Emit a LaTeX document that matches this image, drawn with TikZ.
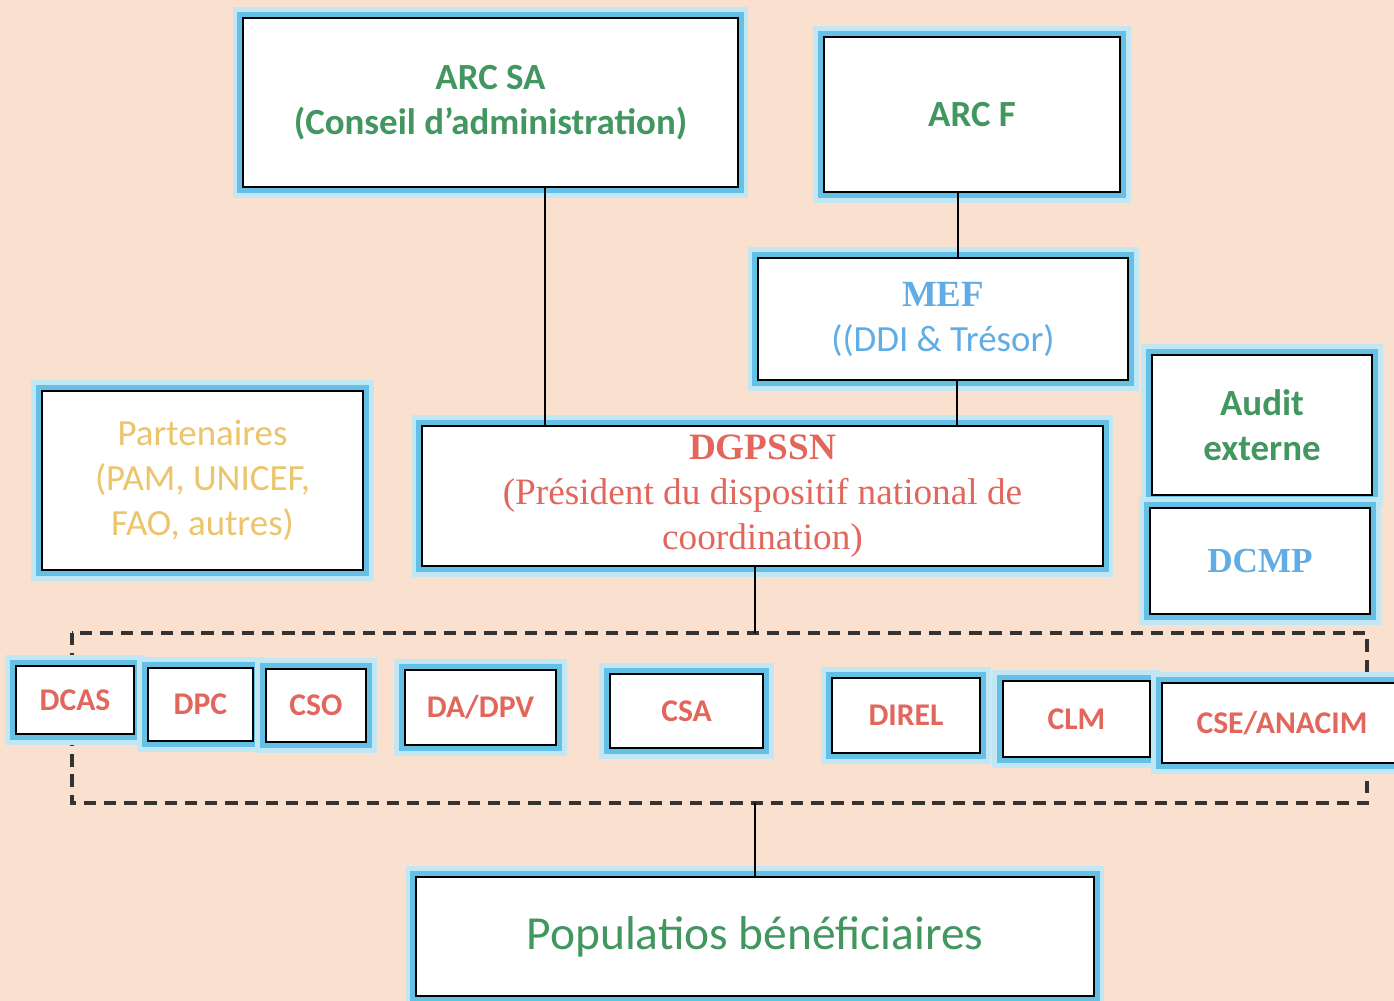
\documentclass[tikz,border=0pt]{standalone}
\usepackage{fontspec}
\setmainfont{Liberation Serif}
\setsansfont{Carlito}
\definecolor{bgpeach}{RGB}{250,224,207}
\definecolor{glowblue}{RGB}{100,192,228}
\definecolor{txtgreen}{RGB}{66,150,96}
\definecolor{txtred}{RGB}{226,102,92}
\definecolor{txtblue}{RGB}{96,172,228}
\definecolor{txtgold}{RGB}{236,196,106}

\begin{document}
\begin{tikzpicture}[x=0.02cm,y=-0.02cm]
      \tikzset{box/.style={draw=black,line width=1.4pt,fill=white,align=center,inner sep=0pt,
          preaction={draw=glowblue!40,line width=12pt},preaction={draw=glowblue,line width=7pt}}}
      \tikzset{sanslbl/.style={font=\sffamily\bfseries\fontsize{21}{25.6}\selectfont}}
      \tikzset{sansreg/.style={font=\sffamily\fontsize{21}{25.6}\selectfont}}
      \tikzset{seriflbl/.style={font=\rmfamily\fontsize{21.2}{25.6}\selectfont}}
      \tikzset{serifbold/.style={font=\rmfamily\bfseries\fontsize{20}{25.6}\selectfont}}
      \tikzset{unit/.style={box,font=\sffamily\bfseries\fontsize{18}{22}\selectfont,text=txtred}}
      \tikzset{link/.style={line width=1.2pt}}
      \tikzset{frame/.style={dash pattern=on 7pt off 4.5pt,line width=2pt,draw=black!80}}
      \fill[bgpeach] (0,0) rectangle (1394,1001);
      \useasboundingbox (0,0) rectangle (1394,1001);
      % top level
      \node[box,sanslbl,text=txtgreen,minimum width=9.9cm,minimum height=3.38cm] (arcsa) at (490.5,102.5)
        {ARC SA\\(Conseil d’administration)};
      \node[box,sanslbl,text=txtgreen,minimum width=5.92cm,minimum height=3.1cm] (arcf) at (972,114.5) {ARC F};
      \node[box,sansreg,text=txtblue,minimum width=7.4cm,minimum height=2.44cm] (mef) at (943,319)
        {{\rmfamily\bfseries MEF}\\((DDI \& Trésor)};
      \node[box,sansreg,text=txtgold,minimum width=6.42cm,minimum height=3.58cm] (part) at (202.5,480.5)
        {Partenaires\\(PAM, UNICEF,\\FAO, autres)};
      \node[box,seriflbl,text=txtred,minimum width=13.62cm,minimum height=2.8cm] (dgpssn) at (762.5,496)
        {{\bfseries DGPSSN}\\(Président du dispositif national de\\coordination)};
      \node[box,sanslbl,text=txtgreen,minimum width=4.4cm,minimum height=2.8cm] (audit) at (1262,425) {Audit\\externe};
      \node[box,serifbold,text=txtblue,minimum width=4.4cm,minimum height=2.12cm] (dcmp) at (1260,561) {DCMP};
      % services
      \coordinate (frtop) at (72,633);
      \coordinate (frbot) at (1367,803);
      \draw[frame] (frtop) rectangle (frbot);
      \node[unit,minimum width=2.36cm,minimum height=1.36cm] (dcas) at (75,700) {DCAS};
      \node[unit,minimum width=2.1cm,minimum height=1.46cm] (dpc) at (200.5,704.5) {DPC};
      \node[unit,minimum width=2cm,minimum height=1.46cm] (cso) at (316,705.5) {CSO};
      \node[unit,minimum width=3.02cm,minimum height=1.5cm] (dadpv) at (480.5,707.5) {DA/DPV};
      \node[unit,minimum width=3.06cm,minimum height=1.48cm] (csa) at (686.5,711) {CSA};
      \node[unit,minimum width=2.96cm,minimum height=1.5cm] (direl) at (906,715.5) {DIREL};
      \node[unit,minimum width=2.94cm,minimum height=1.52cm] (clm) at (1076.5,719) {CLM};
      \node[unit,minimum width=4.8cm,minimum height=1.6cm] (cseanacim) at (1282,723) {CSE/ANACIM};
      \node[box,font=\sffamily\fontsize{27}{32}\selectfont,text=txtgreen,minimum width=13.56cm,minimum height=2.38cm] (pop)
        at (755,936.5) {Populatios bénéficiaires};
      % connectors
      \coordinate (c1) at ([xshift=1.09cm]arcsa.south);
      \draw[link] (c1) -- (c1 |- dgpssn.north);
      \coordinate (c2) at ([xshift=-0.28cm]arcf.south);
      \draw[link] (c2) -- (c2 |- mef.north);
      \coordinate (c3) at ([xshift=0.28cm]mef.south);
      \draw[link] (c3) -- (c3 |- dgpssn.north);
      \coordinate (c4) at ([xshift=-0.15cm]dgpssn.south);
      \draw[link] (c4) -- (c4 |- frtop);
      \draw[link] (pop.north |- frbot) -- (pop.north);
    \end{tikzpicture}
\end{document}
